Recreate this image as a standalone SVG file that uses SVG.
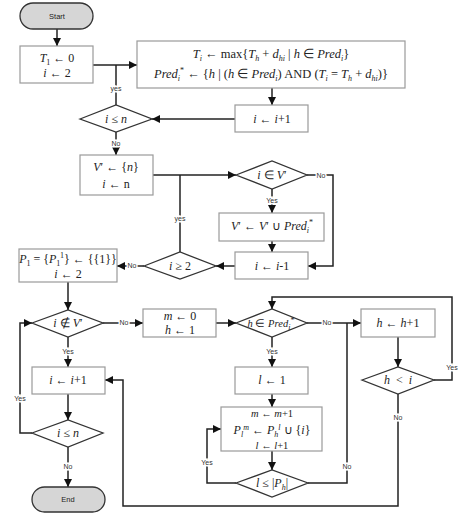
<svg xmlns="http://www.w3.org/2000/svg" width="474" height="518" viewBox="0 0 474 518">
<style>
.box{fill:#fff;stroke:#9a9a9a;stroke-width:1.2}
.dia{fill:#fff;stroke:#333;stroke-width:1.3}
.term{fill:#d6d6d6;stroke:#333;stroke-width:1.3}
.c{fill:none;stroke:#222;stroke-width:1.5}
.ca{fill:none;stroke:#222;stroke-width:1.5;marker-end:url(#ah)}
.m{font-family:"Liberation Serif",serif;font-size:12px;fill:#222;text-anchor:middle}
.i{font-style:italic}
.s{font-size:8px}
.lb{font-family:"Liberation Sans",Arial,sans-serif;font-size:7px;fill:#333;text-anchor:middle;stroke:#fff;stroke-width:3px;paint-order:stroke}
.t{font-family:"Liberation Sans",Arial,sans-serif;font-size:7.5px;fill:#222;text-anchor:middle}
</style>
<defs>
<marker id="ah" markerUnits="userSpaceOnUse" markerWidth="9" markerHeight="8" refX="8" refY="4" orient="auto">
<path d="M0,0 L8,4 L0,8 Z" fill="#111"/>
</marker>
</defs>

<g id="connectors">
<path class="ca" d="M57,29 V46"/>
<path class="ca" d="M93,65 H137"/>
<path class="c" d="M116,105 V65"/>
<path class="ca" d="M272,88 V105"/>
<path class="ca" d="M235,119 H152"/>
<path class="ca" d="M116,132 V155"/>
<path class="ca" d="M153,175 H236"/>
<path class="c" d="M180,252 V175"/>
<path class="ca" d="M307,175 H333 V266 H308"/>
<path class="ca" d="M272,189 V213"/>
<path class="ca" d="M272,241 V252"/>
<path class="ca" d="M235,266 H216"/>
<path class="ca" d="M144,266 H117"/>
<path class="ca" d="M68,282 V310"/>
<path class="ca" d="M103,323 H143"/>
<path class="ca" d="M216,323 H236"/>
<path class="ca" d="M307,323 H361"/>
<path class="ca" d="M398,337 V367"/>
<path class="ca" d="M434,380 H452 V297 H272 V309"/>
<path class="ca" d="M398,394 V506 H123 V380 H105"/>
<path class="ca" d="M68,337 V367"/>
<path class="ca" d="M68,394 V420"/>
<path class="ca" d="M32,433 H20 V323 H32"/>
<path class="ca" d="M68,447 V487"/>
<path class="ca" d="M272,337 V367"/>
<path class="ca" d="M272,394 V407"/>
<path class="ca" d="M272,451 V470"/>
<path class="ca" d="M236,483 H207 V429 H221"/>
<path class="c" d="M308,483 H347 V323"/>
<text class="lb" x="116" y="91">yes</text>
<text class="lb" x="116" y="146">No</text>
<text class="lb" x="321" y="178">No</text>
<text class="lb" x="272" y="203">Yes</text>
<text class="lb" x="180" y="221">yes</text>
<text class="lb" x="132" y="268">No</text>
<text class="lb" x="124" y="325">No</text>
<text class="lb" x="68" y="354">Yes</text>
<text class="lb" x="20" y="401">Yes</text>
<text class="lb" x="68" y="469">No</text>
<text class="lb" x="327" y="325">No</text>
<text class="lb" x="272" y="354">Yes</text>
<text class="lb" x="452" y="370">Yes</text>
<text class="lb" x="398" y="420">No</text>
<text class="lb" x="207" y="465">Yes</text>
<text class="lb" x="347" y="469">No</text>
</g>

<g id="start"><rect class="term" x="20" y="3" width="73" height="26" rx="13"/><text class="t" x="57" y="19">Start</text></g>

<g id="init"><rect class="box" x="20" y="46" width="73" height="37"/>
<text class="m" x="57" y="62"><tspan class="i">T</tspan><tspan class="s" baseline-shift="-3">1</tspan> ← 0</text>
<text class="m" x="57" y="77"><tspan class="i">i</tspan> ← 2</text></g>

<g id="compute"><rect class="box" x="137" y="41" width="268" height="47"/>
<text class="m" x="271" y="58" style="font-size:12.5px"><tspan class="i">T</tspan><tspan class="i s" baseline-shift="-3">i</tspan> ← max{<tspan class="i">T</tspan><tspan class="i s" baseline-shift="-3">h</tspan> + <tspan class="i">d</tspan><tspan class="i s" baseline-shift="-3">hi</tspan> | <tspan class="i">h</tspan> ∈ <tspan class="i">Pred</tspan><tspan class="i s" baseline-shift="-3">i</tspan>}</text>
<text class="m" x="271" y="78" style="font-size:12.5px"><tspan class="i">Pred</tspan><tspan class="i s" baseline-shift="-3">i</tspan><tspan class="s" baseline-shift="5">*</tspan> ← {<tspan class="i">h</tspan> | (<tspan class="i">h</tspan> ∈ <tspan class="i">Pred</tspan><tspan class="i s" baseline-shift="-3">i</tspan>) AND (<tspan class="i">T</tspan><tspan class="i s" baseline-shift="-3">i</tspan> = <tspan class="i">T</tspan><tspan class="i s" baseline-shift="-3">h</tspan> + <tspan class="i">d</tspan><tspan class="i s" baseline-shift="-3">hi</tspan>)}</text></g>

<g id="inc1"><rect class="box" x="235" y="105" width="73" height="27"/>
<text class="m" x="272" y="123"><tspan class="i">i</tspan> ← <tspan class="i">i</tspan>+1</text></g>

<g id="cond1"><polygon class="dia" points="80,119 116,105 152,119 116,132"/>
<text class="m" x="116" y="123"><tspan class="i">i</tspan> ≤ <tspan class="i">n</tspan></text></g>

<g id="vinit"><rect class="box" x="80" y="155" width="73" height="40"/>
<text class="m" x="116" y="171"><tspan class="i">V</tspan>′ ← {<tspan class="i">n</tspan>}</text>
<text class="m" x="116" y="188"><tspan class="i">i</tspan> ← n</text></g>

<g id="inV"><polygon class="dia" points="236,175 272,161 307,175 272,189"/>
<text class="m" x="272" y="179"><tspan class="i">i</tspan> ∈ <tspan class="i">V</tspan>′</text></g>

<g id="vunion"><rect class="box" x="219" y="213" width="105" height="28"/>
<text class="m" x="272" y="230"><tspan class="i">V</tspan>′ ← <tspan class="i">V</tspan>′ ∪ <tspan class="i">Pred</tspan><tspan class="i s" baseline-shift="-3">i</tspan><tspan class="s" baseline-shift="5">*</tspan></text></g>

<g id="dec"><rect class="box" x="235" y="252" width="73" height="27"/>
<text class="m" x="272" y="270"><tspan class="i">i</tspan> ← <tspan class="i">i</tspan>-1</text></g>

<g id="cond2"><polygon class="dia" points="144,266 180,252 216,266 180,279"/>
<text class="m" x="180" y="270"><tspan class="i">i</tspan> ≥ 2</text></g>

<g id="pinit"><rect class="box" x="19" y="249" width="98" height="33"/>
<text class="m" x="68" y="263"><tspan class="i">P</tspan><tspan class="s" baseline-shift="-3">1</tspan> = {<tspan class="i">P</tspan><tspan class="s" baseline-shift="-3">1</tspan><tspan class="s" baseline-shift="5">1</tspan>} ← {{1}}</text>
<text class="m" x="68" y="278"><tspan class="i">i</tspan> ← 2</text></g>

<g id="notinV"><polygon class="dia" points="32,323 68,310 103,323 68,337"/>
<text class="m" x="68" y="327"><tspan class="i">i</tspan> ∉ <tspan class="i">V</tspan>′</text></g>

<g id="mh"><rect class="box" x="143" y="309" width="73" height="28"/>
<text class="m" x="180" y="320"><tspan class="i">m</tspan> ← 0</text>
<text class="m" x="180" y="334"><tspan class="i">h</tspan> ← 1</text></g>

<g id="hinPred"><polygon class="dia" points="236,323 272,309 307,323 272,337"/>
<text class="m" x="271" y="327" style="font-size:10.5px"><tspan class="i">h</tspan> ∈ <tspan class="i">Pred</tspan><tspan class="i s" baseline-shift="-3">i</tspan><tspan class="s" baseline-shift="4">*</tspan></text></g>

<g id="hinc"><rect class="box" x="361" y="309" width="74" height="28"/>
<text class="m" x="398" y="327"><tspan class="i">h</tspan> ← <tspan class="i">h</tspan>+1</text></g>

<g id="hlt"><polygon class="dia" points="362,380 398,367 434,380 398,394"/>
<text class="m" x="398" y="384" xml:space="preserve"><tspan class="i">h</tspan>  &lt;  <tspan class="i">i</tspan></text></g>

<g id="l1"><rect class="box" x="235" y="367" width="73" height="27"/>
<text class="m" x="272" y="384"><tspan class="i">l</tspan> ← 1</text></g>

<g id="pupdate"><rect class="box" x="221" y="407" width="101" height="44"/>
<text class="m" x="272" y="417" style="font-size:10.5px"><tspan class="i">m</tspan> ← <tspan class="i">m</tspan>+1</text>
<text class="m" x="272" y="434"><tspan class="i">P</tspan><tspan class="i s" baseline-shift="-3">l</tspan><tspan class="i s" baseline-shift="4">m</tspan> ← <tspan class="i">P</tspan><tspan class="i s" baseline-shift="-3">h</tspan><tspan class="i s" baseline-shift="4">l</tspan> ∪ {<tspan class="i">i</tspan>}</text>
<text class="m" x="272" y="449" style="font-size:10.5px"><tspan class="i">l</tspan> ← <tspan class="i">l</tspan>+1</text></g>

<g id="lcond"><polygon class="dia" points="236,483 272,470 308,483 272,497"/>
<text class="m" x="272" y="487"><tspan class="i">l</tspan> ≤ |<tspan class="i">P</tspan><tspan class="i s" baseline-shift="-3">h</tspan>|</text></g>

<g id="inc2"><rect class="box" x="32" y="367" width="73" height="27"/>
<text class="m" x="68" y="384"><tspan class="i">i</tspan> ← <tspan class="i">i</tspan>+1</text></g>

<g id="cond3"><polygon class="dia" points="32,433 68,420 103,433 68,447"/>
<text class="m" x="68" y="437"><tspan class="i">i</tspan> ≤ <tspan class="i">n</tspan></text></g>

<g id="end"><rect class="term" x="32" y="487" width="73" height="25" rx="12.5"/><text class="t" x="68" y="502">End</text></g>
</svg>
